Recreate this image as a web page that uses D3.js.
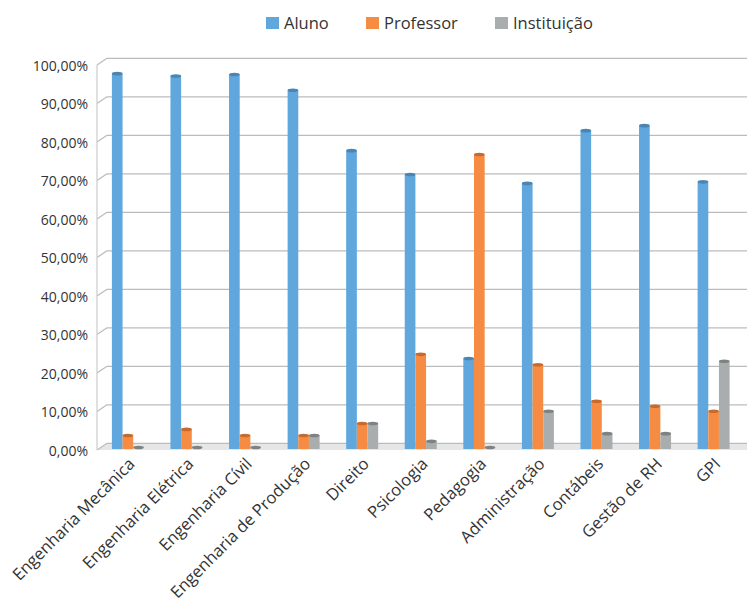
<!DOCTYPE html>
<html>
<head>
<meta charset="utf-8">
<script src="https://cdn.jsdelivr.net/npm/d3@7"></script>
<style>
  html, body { margin: 0; padding: 0; background: #fff; }
  svg { display: block; font-family: "Open Sans", "Noto Sans", sans-serif; }
</style>
</head>
<body>
<svg id="chart" width="747" height="605"></svg>
<script>
// Cursos avaliados
const categories = [
  "Engenharia Mecânica", "Engenharia Elétrica", "Engenharia Cívil",
  "Engenharia de Produção", "Direito", "Psicologia", "Pedagogia",
  "Administração", "Contábeis", "Gestão de RH", "GPI"
];
// Proporção de respostas por responsável
const aluno       = [0.971, 0.965, 0.969, 0.928, 0.771, 0.709, 0.231, 0.686, 0.823, 0.836, 0.690];
const professor   = [0.031, 0.047, 0.031, 0.031, 0.0625, 0.242, 0.761, 0.215, 0.120, 0.107, 0.094];
const instituicao = [0.000, 0.000, 0.000, 0.031, 0.0625, 0.016, 0.000, 0.094, 0.036, 0.036, 0.224];
const seriesNames = ["Aluno", "Professor", "Instituição"];
const yTicks = [0, 0.1, 0.2, 0.3, 0.4, 0.5, 0.6, 0.7, 0.8, 0.9, 1.0];

const series = [aluno, professor, instituicao];
const colors = ["#5fa7dc", "#f68c43", "#aaadae"];
const topColors = ["#4a85b4", "#c76a2c", "#7f8283"];

const svg = d3.select("#chart");
const W = 747;

// pseudo-3D geometry: back wall offset from the front plane
const depth = { dx: 10, dy: -6.7 };
const frontLeft = 97;

const ptBR = d3.formatLocale({ decimal: ",", thousands: ".", grouping: [3], currency: ["R$", ""] });
const fmt = ptBR.format(".2%");

const yWall = d3.scaleLinear().domain([0, 1]).range([443.3, 58.3]);
const yBar  = d3.scaleLinear().domain([0, 1]).range([447.5, 62.5]);
const x = d3.scaleBand().domain(categories).range([98.6, 742.9]).padding(0);
const inner = d3.scaleBand().domain(d3.range(series.length)).range([-16, 16]).padding(0);

// floor
const y0 = yWall(0);
svg.append("path")
  .attr("d", `M${frontLeft},${y0 - depth.dy} L${frontLeft + depth.dx},${y0} L${W},${y0} L${W},${y0 - depth.dy} Z`)
  .attr("fill", "#e5e6e8");

// back wall gridlines + side wall diagonals
const grid = svg.append("g").attr("fill", "none").attr("stroke", "#bcbcbc").attr("stroke-width", 1.3);
yTicks.forEach(t => {
  const yb = yWall(t);
  grid.append("line").attr("x1", frontLeft + depth.dx).attr("x2", W).attr("y1", yb).attr("y2", yb);
  grid.append("line").attr("x1", frontLeft).attr("y1", yb - depth.dy)
    .attr("x2", frontLeft + depth.dx).attr("y2", yb);
});
grid.append("line").attr("x1", frontLeft).attr("x2", frontLeft)
  .attr("y1", yWall(1) - depth.dy).attr("y2", yWall(0) - depth.dy)
  .attr("stroke", "#cfcfcf");

// y axis labels
svg.append("g").selectAll("text").data(yTicks).join("text")
  .attr("x", 88).attr("y", d => yWall(d) - depth.dy)
  .attr("text-anchor", "end").attr("dominant-baseline", "central")
  .attr("font-size", 14).attr("fill", "#333")
  .text(d => fmt(d));

// bars
const barW = inner.bandwidth();
const base = 449;
const bars = svg.append("g");
categories.forEach((c, i) => {
  series.forEach((s, k) => {
    const v = s[i];
    const bx = x(c) + x.bandwidth() / 2 + inner(k);
    const cx = bx + barW / 2;
    if (v <= 0) {
      bars.append("ellipse").attr("cx", cx).attr("cy", base - 1.5)
        .attr("rx", barW / 2).attr("ry", 1.8).attr("fill", topColors[k]);
      return;
    }
    const top = yBar(v);
    bars.append("rect").attr("x", bx).attr("y", top).attr("width", barW)
      .attr("height", base - top).attr("fill", colors[k]);
    bars.append("ellipse").attr("cx", cx).attr("cy", top)
      .attr("rx", barW / 2).attr("ry", 1.8).attr("fill", topColors[k]);
  });
});

// category labels
svg.append("g").selectAll("text").data(categories).join("text")
  .attr("transform", d => `translate(${x(d) + x.bandwidth() / 2 + 8},${465}) rotate(-45)`)
  .attr("text-anchor", "end")
  .attr("font-size", 16.6).attr("fill", "#333")
  .text(d => d);

// legend
const legendX = [266, 366, 495];
const legend = svg.append("g");
seriesNames.forEach((n, k) => {
  legend.append("rect").attr("x", legendX[k]).attr("y", 17).attr("width", 13).attr("height", 12)
    .attr("fill", colors[k]);
  legend.append("text").attr("x", legendX[k] + 18).attr("y", 29)
    .attr("font-size", 16.5).attr("fill", "#333").text(n);
});
</script>
</body>
</html>
